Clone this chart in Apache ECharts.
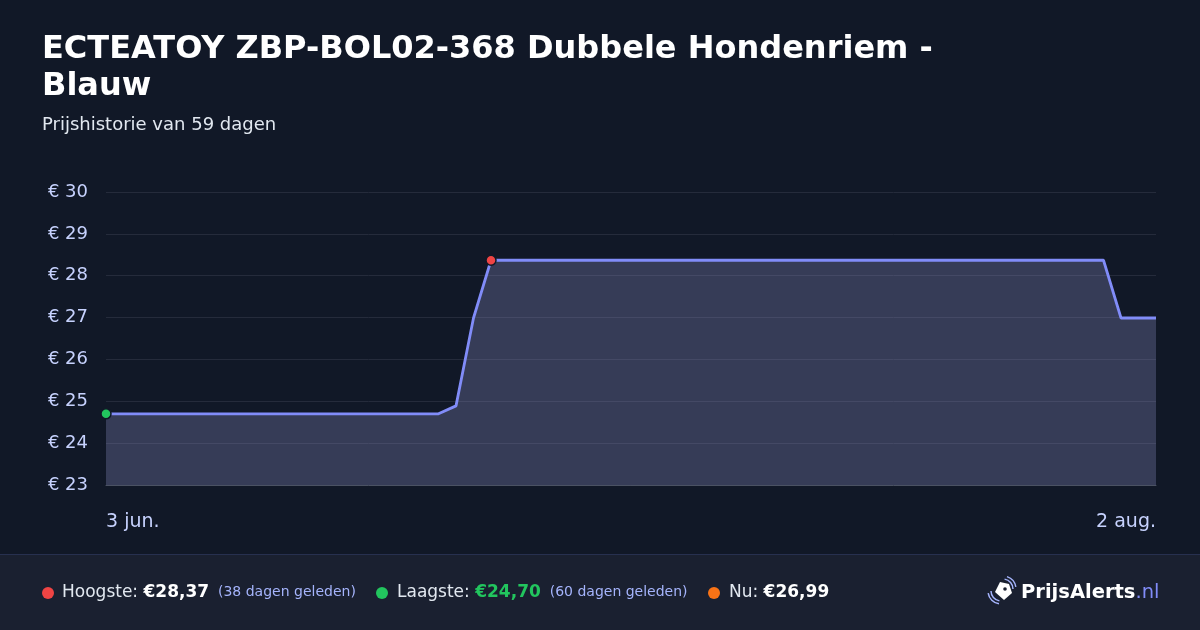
<!DOCTYPE html>
<html><head><meta charset="utf-8">
<script src="https://cdn.jsdelivr.net/npm/echarts@6/dist/echarts.min.js"></script>
<style>html,body{margin:0;padding:0;background:#111827;}#c{width:1200px;height:630px;}</style>
</head><body><div id="c"></div>
<script>
const titleText = 'ECTEATOY ZBP-BOL02-368 Dubbele Hondenriem -\nBlauw';
const subtitleText = 'Prijshistorie van 59 dagen';
const monthNames = ['jan.','feb.','mrt.','apr.','mei','jun.','jul.','aug.','sep.','okt.','nov.','dec.'];
const startDate = [2024, 5, 3];
const dayCount = 61;
const prices = [
  24.70,24.70,24.70,24.70,24.70,24.70,24.70,24.70,24.70,24.70,
  24.70,24.70,24.70,24.70,24.70,24.70,24.70,24.70,24.70,24.70,
  24.89,26.99,28.37,28.37,28.37,28.37,28.37,28.37,28.37,28.37,
  28.37,28.37,28.37,28.37,28.37,28.37,28.37,28.37,28.37,28.37,
  28.37,28.37,28.37,28.37,28.37,28.37,28.37,28.37,28.37,28.37,
  28.37,28.37,28.37,28.37,28.37,28.37,28.37,28.37,26.99,26.99,
  26.99
];
const yTicks = [23,24,25,26,27,28,29,30];
const stats = {high:'€28,37', highAgo:'(38 dagen geleden)', low:'€24,70', lowAgo:'(60 dagen geleden)', now:'€26,99'};

const dates = [];
for (let i = 0; i < dayCount; i++) {
  const d = new Date(startDate[0], startDate[1], startDate[2] + i);
  dates.push(d.getDate() + ' ' + monthNames[d.getMonth()]);
}
const maxIdx = prices.indexOf(Math.max(...prices));
const minIdx = prices.indexOf(Math.min(...prices));
const lineData = prices.map((v, i) => {
  if (i === maxIdx) return {value: v, symbol: 'circle', symbolSize: 10, itemStyle: {color: '#ef4444', borderColor: '#111827', borderWidth: 1.5}};
  if (i === minIdx) return {value: v, symbol: 'circle', symbolSize: 10, itemStyle: {color: '#22c55e', borderColor: '#111827', borderWidth: 1.5}};
  return {value: v, symbol: 'none'};
});

const font = '"DejaVu Sans", Verdana, sans-serif';
const chart = echarts.init(document.getElementById('c'));
chart.setOption({
  backgroundColor: '#111827',
  animation: false,
  textStyle: {fontFamily: font},
  title: [{
    text: titleText, left: 42, top: 31, padding: 0,
    textStyle: {color: '#ffffff', fontSize: 32, fontWeight: 'bold', fontFamily: font, lineHeight: 37}
  }, {
    text: subtitleText, left: 42, top: 116, padding: 0,
    textStyle: {color: '#e2e8f0', fontSize: 18, fontWeight: 'normal', fontFamily: font}
  }],
  grid: {left: 106, right: 44, top: 192, bottom: 145},
  xAxis: {
    type: 'category', data: dates, boundaryGap: false,
    axisLine: {show: true, lineStyle: {color: '#4b5263', width: 1}},
    axisTick: {show: false},
    splitLine: {show: false},
    axisLabel: {
      color: '#c7d2fe', fontSize: 19, fontFamily: font, margin: 28,
      interval: (i) => i === 0 || i === dayCount - 1,
      alignMinLabel: 'left', alignMaxLabel: 'right'
    }
  },
  yAxis: {
    type: 'value', min: yTicks[0], max: yTicks[yTicks.length - 1], interval: 1,
    axisLine: {show: false}, axisTick: {show: false},
    splitLine: {lineStyle: {color: '#252b3b', width: 1}},
    axisLabel: {color: '#c7d2fe', fontSize: 18, fontFamily: font, margin: 18, formatter: (v) => '€ ' + v}
  },
  series: [{
    type: 'line', data: lineData, showSymbol: true,
    lineStyle: {color: '#818cf8', width: 2.8},
    itemStyle: {color: '#818cf8'},
    areaStyle: {color: 'rgba(140,145,195,0.44)'},
    z: 3
  }],
  graphic: [
    {type: 'rect', shape: {x: 0, y: 554, width: 1200, height: 76}, style: {fill: '#1a2030'}, silent: true},
    {type: 'rect', shape: {x: 0, y: 554, width: 1200, height: 1}, style: {fill: '#27304f'}, silent: true},
    {type: 'circle', shape: {cx: 48, cy: 593, r: 6}, style: {fill: '#ef4444'}},
    {type: 'text', left: 62, top: 584, style: {
      text: '{l|Hoogste: }{b|' + stats.high + '}{s|  ' + stats.highAgo + '}',
      rich: {
        l: {fill: '#e2e8f0', fontSize: 17, fontFamily: font},
        b: {fill: '#ffffff', fontSize: 17, fontWeight: 'bold', fontFamily: font},
        s: {fill: '#a5b4fc', fontSize: 14, fontFamily: font}
      }}},
    {type: 'circle', shape: {cx: 382, cy: 593, r: 6}, style: {fill: '#22c55e'}},
    {type: 'text', left: 397, top: 584, style: {
      text: '{l|Laagste: }{g|' + stats.low + '}{s|  ' + stats.lowAgo + '}',
      rich: {
        l: {fill: '#e2e8f0', fontSize: 17, fontFamily: font},
        g: {fill: '#22c55e', fontSize: 17, fontWeight: 'bold', fontFamily: font},
        s: {fill: '#a5b4fc', fontSize: 14, fontFamily: font}
      }}},
    {type: 'circle', shape: {cx: 714, cy: 593, r: 6}, style: {fill: '#f97316'}},
    {type: 'text', left: 729, top: 584, style: {
      text: '{l|Nu: }{b|' + stats.now + '}',
      rich: {
        l: {fill: '#e2e8f0', fontSize: 17, fontFamily: font},
        b: {fill: '#ffffff', fontSize: 17, fontWeight: 'bold', fontFamily: font}
      }}},
    {type: 'group', x: 990, y: 578, children: [
      {type: 'polygon', shape: {points: [[10, 4], [19, 6], [22, 15], [14, 22], [5, 14]]}, style: {fill: '#ffffff'}},
      {type: 'circle', shape: {cx: 15, cy: 11, r: 1.8}, style: {fill: '#1a2030'}},
      {type: 'arc', shape: {cx: 11, cy: 13, r: 10, startAngle: Math.PI * 0.55, endAngle: Math.PI * 1.0}, style: {stroke: '#a5b4fc', lineWidth: 1.5, fill: null}},
      {type: 'arc', shape: {cx: 11, cy: 13, r: 13, startAngle: Math.PI * 0.55, endAngle: Math.PI * 0.95}, style: {stroke: '#a5b4fc', lineWidth: 1.5, fill: null}},
      {type: 'arc', shape: {cx: 13, cy: 11, r: 10, startAngle: -Math.PI * 0.45, endAngle: 0}, style: {stroke: '#a5b4fc', lineWidth: 1.5, fill: null}},
      {type: 'arc', shape: {cx: 13, cy: 11, r: 13, startAngle: -Math.PI * 0.4, endAngle: -Math.PI * 0.05}, style: {stroke: '#a5b4fc', lineWidth: 1.5, fill: null}}
    ]},
    {type: 'text', left: 1021, top: 583, style: {
      text: '{b|PrijsAlerts}{n|.nl}',
      rich: {
        b: {fill: '#ffffff', fontSize: 19.5, fontWeight: 'bold', fontFamily: font},
        n: {fill: '#818cf8', fontSize: 19.5, fontFamily: font}
      }}}
  ]
});
</script></body></html>
